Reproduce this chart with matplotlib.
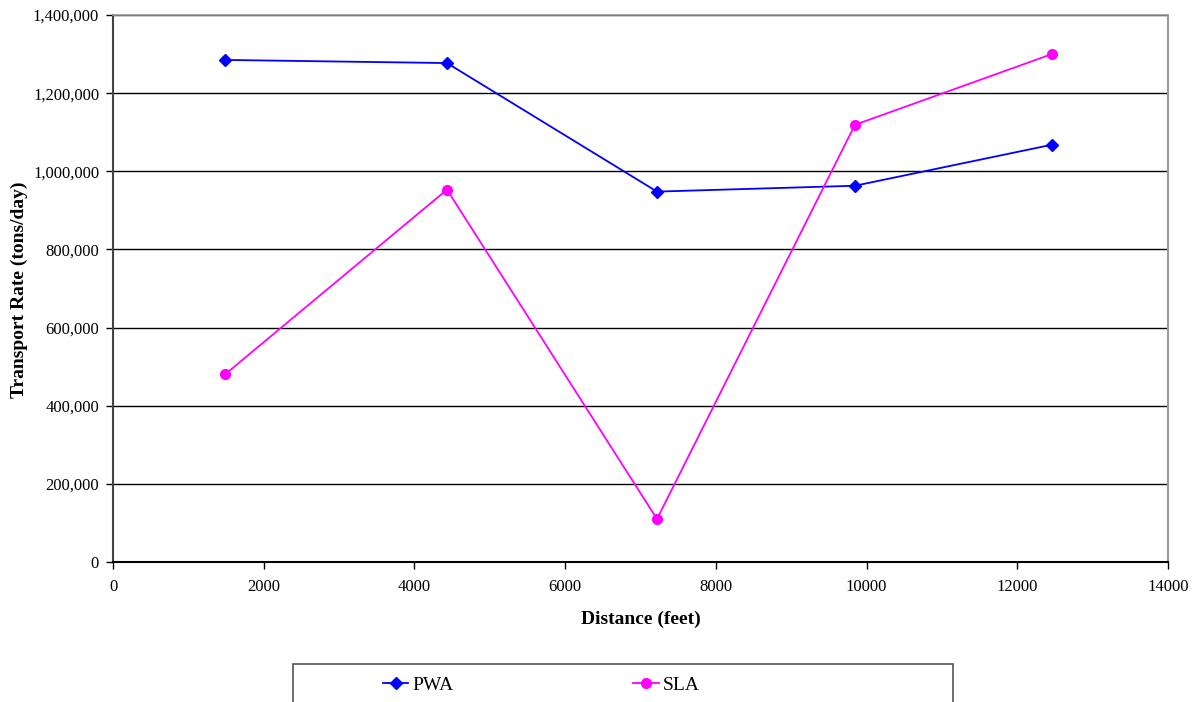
import matplotlib.pyplot as plt
from matplotlib.patches import Rectangle
from matplotlib.ticker import FuncFormatter

plt.rcParams['font.family'] = ['Liberation Serif', 'DejaVu Serif']

# Dados
distancia = [1486, 4432, 7219, 9846, 12460]
pwa = [1285000, 1277000, 948000, 963000, 1068000]
sla = [480000, 953000, 110000, 1119000, 1300000]

fig = plt.figure(figsize=(11.95, 7.02), dpi=100)
ax = fig.add_axes([113 / 1195, 1 - 562 / 702, 1055 / 1195, 547 / 702])

ax.plot(distancia, pwa, color='#0000FF', marker='D', markersize=6, linewidth=1.3, label='PWA')
ax.plot(distancia, sla, color='#FF00FF', marker='o', markersize=7, linewidth=1.3, label='SLA')

ax.set_xlim(0, 14000)
ax.set_ylim(0, 1400000)
ax.set_xticks(range(0, 14001, 2000))
ax.set_yticks(range(0, 1400001, 200000))
ax.yaxis.set_major_formatter(FuncFormatter(lambda v, p: f'{int(v):,}'))
ax.grid(axis='y', color='black', linewidth=1)
ax.set_axisbelow(True)

ax.spines['top'].set_color('#999999')
ax.spines['right'].set_color('#999999')
ax.spines['left'].set_color('#444444')
ax.spines['bottom'].set_color('black')
for s in ax.spines.values():
    s.set_linewidth(1.5)
ax.spines['top'].set_linewidth(1.2)

ax.tick_params(direction='out', length=5, width=1, labelsize=12)
ax.tick_params(axis='y', pad=5)
ax.tick_params(axis='x', pad=7)
ax.set_xlabel('Distance (feet)', fontsize=14, fontweight='bold')
ax.set_ylabel('Transport Rate (tons/day)', fontsize=14, fontweight='bold')
ax.xaxis.set_label_coords(0.5, -(611 - 562) / 547)
ax.yaxis.set_label_coords(-(113 - 28) / 1055, 1 - (290 - 15) / 547)

# Caixa da legenda (cortada na parte de baixo como no original)
fig.patches.append(Rectangle((293 / 1195, -0.02), 660 / 1195, 0.02 + 38 / 702,
                             transform=fig.transFigure, fill=False,
                             edgecolor='#555555', linewidth=1.2))
fig.legend(loc='center left', bbox_to_anchor=(383 / 1195, 1 - 685 / 702), ncol=2,
           frameon=False, fontsize=14, handlelength=1.3, handletextpad=0.2,
           columnspacing=9.25, borderpad=0, borderaxespad=0)

fig.savefig('out.png', dpi=100)
